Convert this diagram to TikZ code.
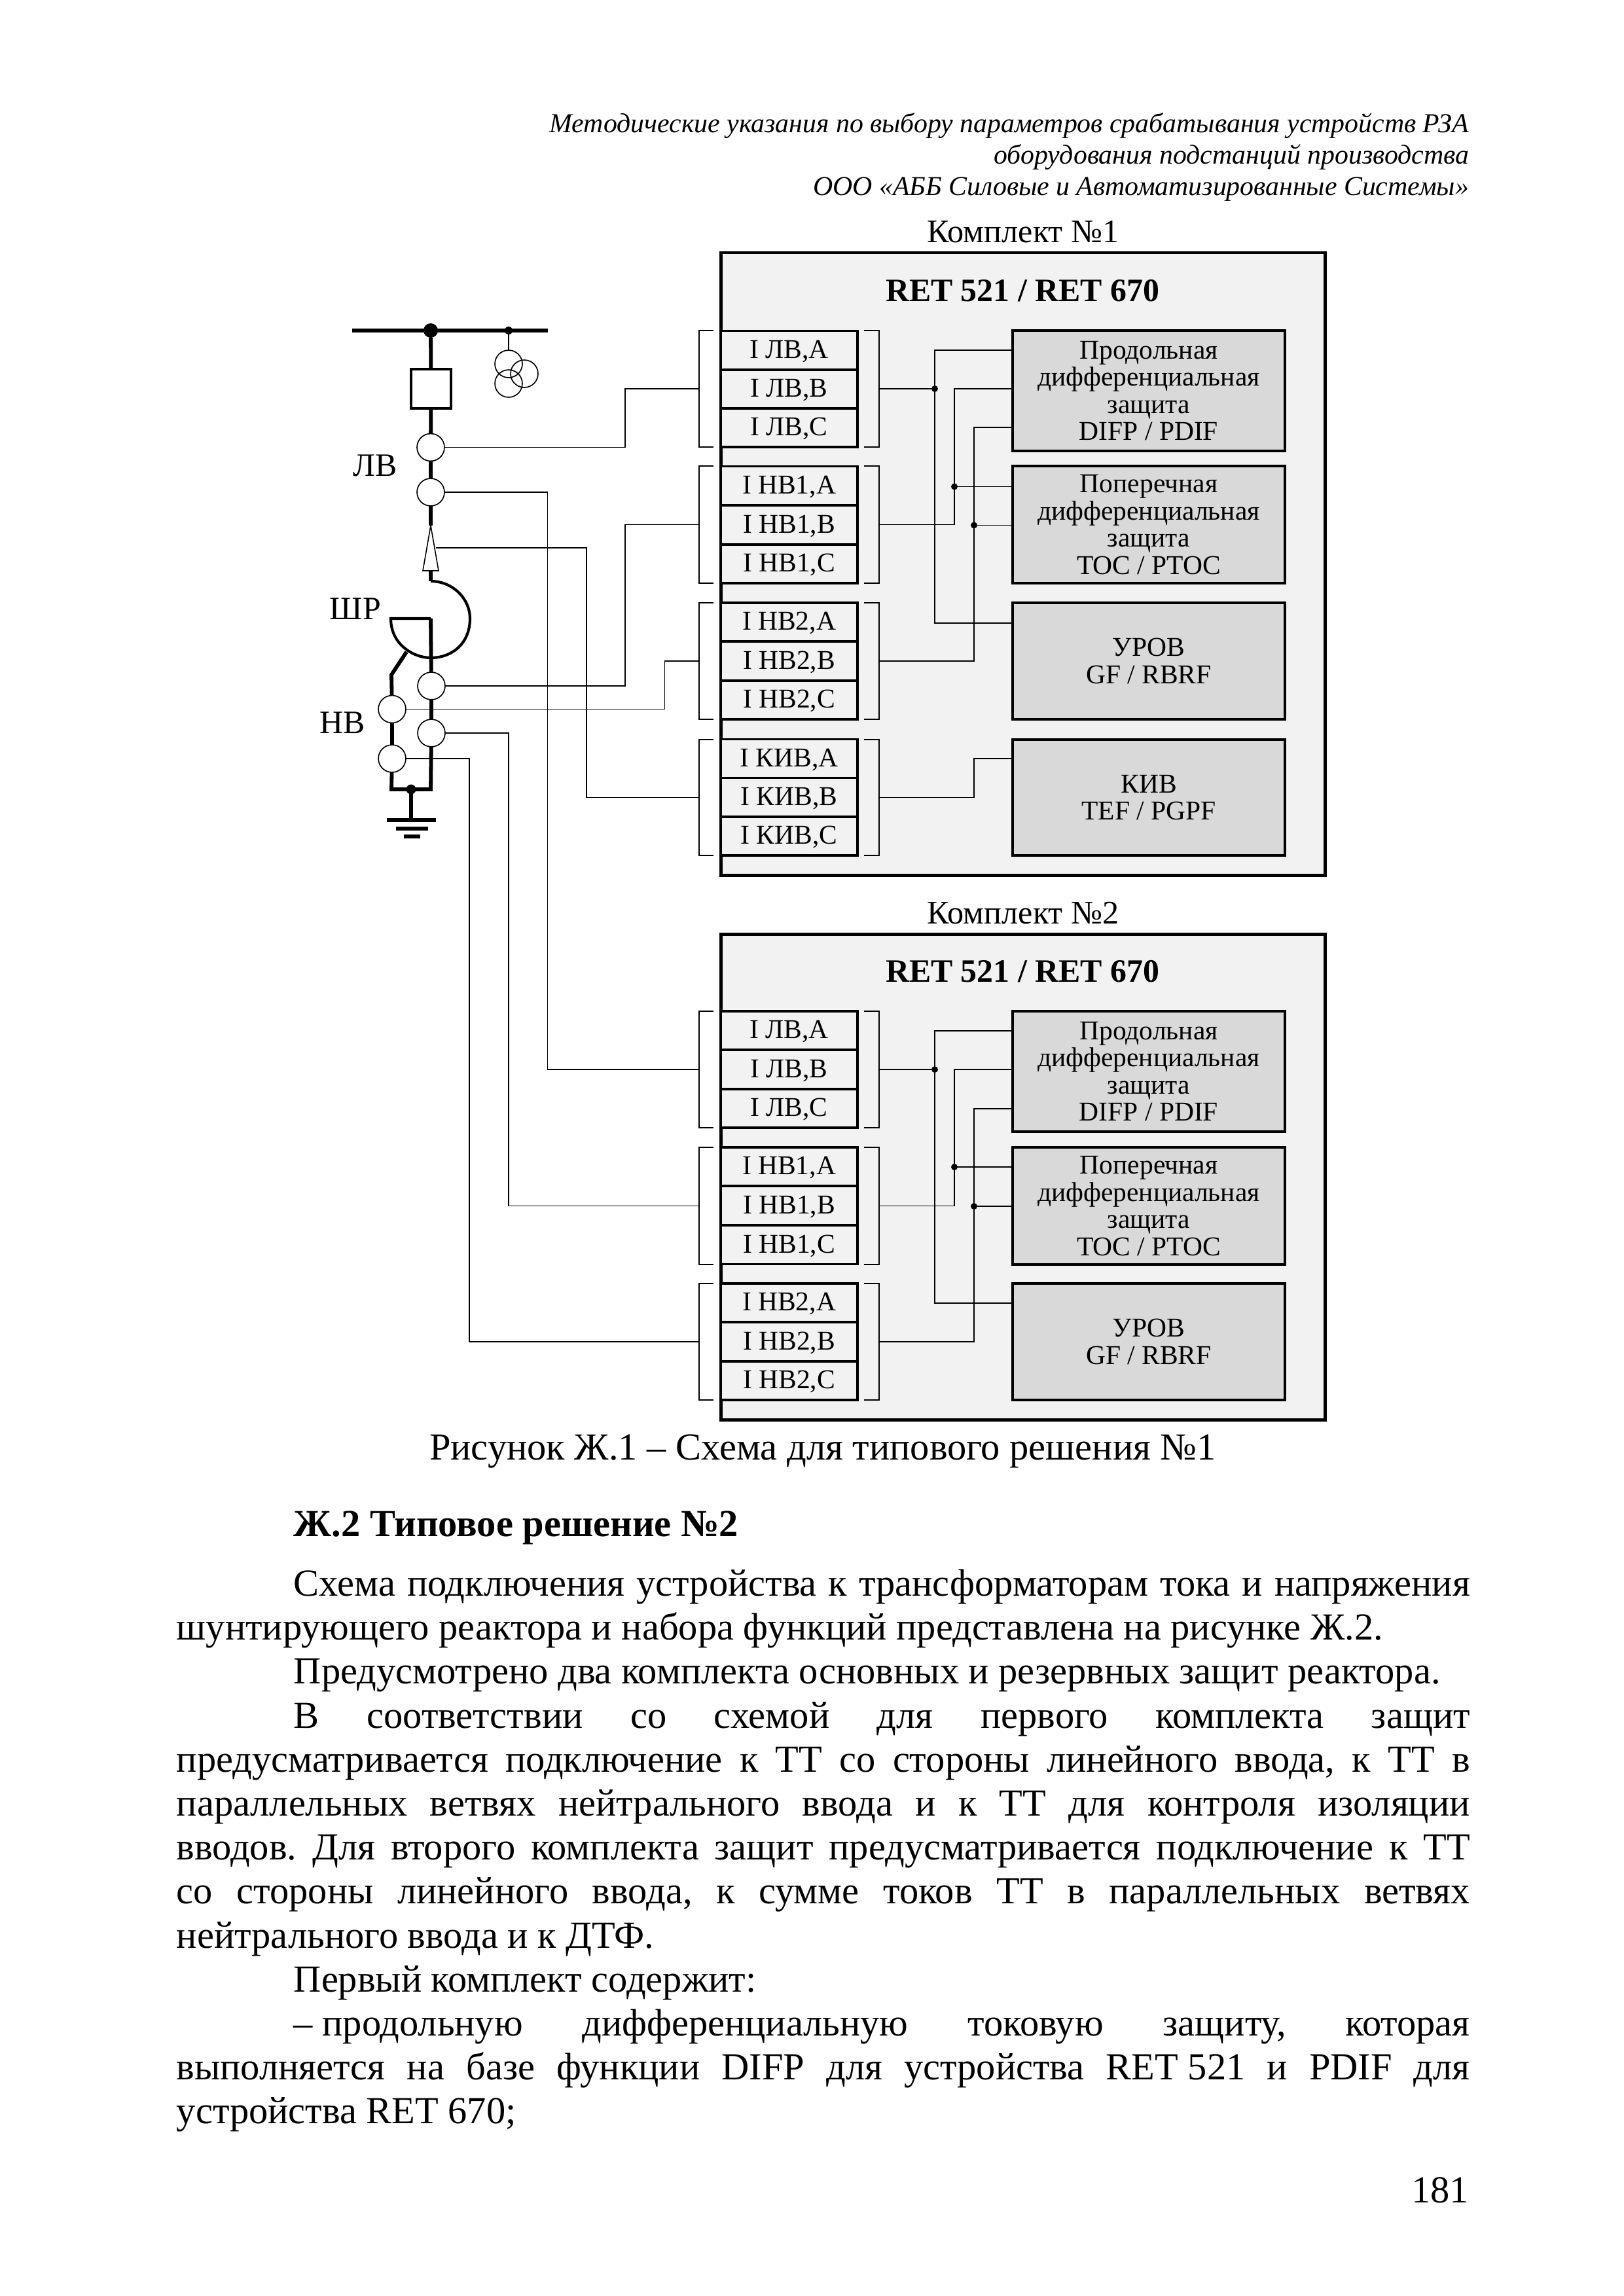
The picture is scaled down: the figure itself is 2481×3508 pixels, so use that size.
\documentclass[tikz,border=0pt]{standalone}
\usepackage{fontspec}
\setmainfont{Liberation Serif}
\usetikzlibrary{fit}
\frenchspacing
\newcommand{\fullline}[1]{\hbox to 476pt{#1}}
\newcommand{\indline}[1]{\hbox to 432.9pt{#1}}
\newcommand{\inbrackets}[3]{%
	\node (#1l) [brack, fit={(1068,#2) (1090,#3)}] {};
	\node (#1r) [brack, fit={(1320,#2) (1343,#3)}] {};
	\draw [wire] (#1l.north east) -- (#1l.north west) -- (#1l.south west) -- (#1l.south east);
	\draw [wire] (#1r.north west) -- (#1r.north east) -- (#1r.south east) -- (#1r.south west);
}
\definecolor{kitgray}{HTML}{F2F2F2}
\definecolor{funcgray}{HTML}{D9D9D9}
\tikzstyle{wire} = [line width=0.38pt]
\tikzstyle{bus} = [line width=1.4pt]
\tikzstyle{coil} = [line width=1pt]
\tikzstyle{brack} = [rectangle, inner sep=0pt, outer sep=0pt]
\tikzstyle{kit} = [rectangle, inner sep=0pt, outer sep=0pt, draw=black, line width=1.2pt, fill=kitgray]
\tikzstyle{inbox} = [rectangle, minimum width=50.35pt, minimum height=14.3pt, inner sep=0pt, outer sep=0pt, draw=black, line width=0.85pt, fill=kitgray, text height=6pt, text depth=0pt, font=\fontsize{10}{10}\selectfont]
\tikzstyle{func} = [rectangle, minimum width=100.2pt, inner sep=0pt, outer sep=0pt, draw=black, line width=0.85pt, fill=funcgray, align=center, font=\fontsize{10}{10}\selectfont]
\tikzset{
	ct/.style={circle, minimum size=10.1pt, inner sep=0pt, outer sep=0pt, draw=black, line width=0.4pt, fill=white},
	vt/.style={circle, minimum size=10.1pt, inner sep=0pt, outer sep=0pt, draw=black, line width=0.4pt},
	dot/.style={circle, minimum size=2.4pt, inner sep=0pt, outer sep=0pt, fill=black},
	head/.style={inner sep=0pt, anchor=base east, font=\fontsize{10.07}{10.07}\selectfont\itshape},
	kittitle/.style={inner sep=0pt, anchor=base, font=\fontsize{12.1}{12.1}\selectfont},
	rettitle/.style={inner sep=0pt, anchor=base, font=\fontsize{12}{12}\selectfont\bfseries},
	sidemark/.style={inner sep=0pt, anchor=base west, font=\fontsize{12}{12}\selectfont},
	bodyline/.style={inner sep=0pt, anchor=base west, font=\fontsize{14.08}{14.08}\selectfont}
}

\begin{document}
\begin{tikzpicture}[x=0.2409pt, y=-0.2409pt]
	\useasboundingbox (0,0) rectangle (2481,3508);

	% Page header
	\node (h1) [head] at (2245,202) {Методические указания по выбору параметров срабатывания устройств РЗА};
	\node (h2) [head] at (2245,250) {оборудования подстанций производства};
	\node (h3) [head] at (2245,298) {ООО «АББ Силовые и Автоматизированные Системы»};

	% Set 1
	\node (kitname1) [kittitle] at (1563,370) {Комплект №1};
	\node (kit1) [kit, fit={(1101,386) (2024,1337)}] {};
	\node (ret1) [rettitle] at (1562,460) {RET 521 / RET 670};

	\node (lva1) [inbox] at (1205.5,535) {I ЛВ,А};
	\node (lvb1) [inbox] at (1205.5,594.5) {I ЛВ,В};
	\node (lvc1) [inbox] at (1205.5,653.5) {I ЛВ,С};
	\node (nva1) [inbox] at (1205.5,742) {I НВ1,А};
	\node (nvb1) [inbox] at (1205.5,802) {I НВ1,В};
	\node (nvc1) [inbox] at (1205.5,861.5) {I НВ1,С};
	\node (mva1) [inbox] at (1205.5,950.5) {I НВ2,А};
	\node (mvb1) [inbox] at (1205.5,1010) {I НВ2,В};
	\node (mvc1) [inbox] at (1205.5,1069.5) {I НВ2,С};
	\node (kva1) [inbox] at (1205.5,1159) {I КИВ,А};
	\node (kvb1) [inbox] at (1205.5,1218) {I КИВ,В};
	\node (kvc1) [inbox] at (1205.5,1277.5) {I КИВ,С};

	\inbrackets{lv1}{505}{683}
	\inbrackets{nv1}{712}{891}
	\inbrackets{mv1}{921}{1099}
	\inbrackets{kv1}{1130}{1307}

	\node (dif1) [func, minimum height=44.3pt] at (1755,597) {Продольная\\дифференциальная\\защита\\DIFP / PDIF};
	\node (toc1) [func, minimum height=43.1pt] at (1755,801.5) {Поперечная\\дифференциальная\\защита\\TOC / PTOC};
	\node (urv1) [func, minimum height=42.9pt] at (1755,1010) {УРОВ\\GF / RBRF};
	\node (kiv1) [func, minimum height=42.6pt] at (1755,1218.5) {КИВ\\TEF / PGPF};

	\node (da1) [dot] at (1428,594) {};
	\node (db1) [dot] at (1458,743.5) {};
	\node (dc1) [dot] at (1488,802.5) {};
	\coordinate (difa1) at (1547,535);
	\coordinate (difb1) at (1547,594);
	\coordinate (difc1) at (1547,653);
	\coordinate (urva1) at (1547,952);
	\coordinate (kiva1) at (1547,1159);
	\coordinate (kvt1) at (1488,1190);

	\draw [wire] (lv1r.east) -- (da1.center);
	\draw [wire] (difa1) -| (da1.center) |- (urva1);
	\draw [wire] (nv1r.east) -| (db1.center) |- (difb1);
	\draw [wire] (db1.center) -- (toc1.west |- db1);
	\draw [wire] (mv1r.east) -| (dc1.center) |- (difc1);
	\draw [wire] (dc1.center) -- (toc1.west |- dc1);
	\draw [wire] (kv1r.east) -| (kvt1) |- (kiva1);

	% Set 2
	\node (kitname2) [kittitle] at (1563,1411) {Комплект №2};
	\node (kit2) [kit, fit={(1101,1427) (2024,2169)}] {};
	\node (ret2) [rettitle] at (1562,1500) {RET 521 / RET 670};

	\node (lva2) [inbox] at (1205.5,1574.5) {I ЛВ,А};
	\node (lvb2) [inbox] at (1205.5,1634) {I ЛВ,В};
	\node (lvc2) [inbox] at (1205.5,1693.5) {I ЛВ,С};
	\node (nva2) [inbox] at (1205.5,1782.5) {I НВ1,А};
	\node (nvb2) [inbox] at (1205.5,1842) {I НВ1,В};
	\node (nvc2) [inbox] at (1205.5,1902) {I НВ1,С};
	\node (mva2) [inbox] at (1205.5,1990.5) {I НВ2,А};
	\node (mvb2) [inbox] at (1205.5,2050) {I НВ2,В};
	\node (mvc2) [inbox] at (1205.5,2109.5) {I НВ2,С};

	\inbrackets{lv2}{1545}{1723}
	\inbrackets{nv2}{1753}{1932}
	\inbrackets{mv2}{1961}{2139}

	\node (dif2) [func, minimum height=44.3pt] at (1755,1637) {Продольная\\дифференциальная\\защита\\DIFP / PDIF};
	\node (toc2) [func, minimum height=43.1pt] at (1755,1842.5) {Поперечная\\дифференциальная\\защита\\TOC / PTOC};
	\node (urv2) [func, minimum height=42.9pt] at (1755,2050) {УРОВ\\GF / RBRF};

	\node (da2) [dot] at (1428,1634) {};
	\node (db2) [dot] at (1458,1783) {};
	\node (dc2) [dot] at (1488,1843) {};
	\coordinate (difa2) at (1547,1575);
	\coordinate (difb2) at (1547,1634);
	\coordinate (difc2) at (1547,1694);
	\coordinate (urva2) at (1547,1991);

	\draw [wire] (lv2r.east) -- (da2.center);
	\draw [wire] (difa2) -| (da2.center) |- (urva2);
	\draw [wire] (nv2r.east) -| (db2.center) |- (difb2);
	\draw [wire] (db2.center) -- (toc2.west |- db2);
	\draw [wire] (mv2r.east) -| (dc2.center) |- (difc2);
	\draw [wire] (dc2.center) -- (toc2.west |- dc2);

	% One-line scheme
	\coordinate (busl) at (538,505);
	\coordinate (busr) at (837,505);
	\node (busdot) [dot, minimum size=5.3pt] at (658,505) {};
	\node (vtdot) [dot, minimum size=2.9pt] at (777,505) {};
	\node (vta) [vt] at (777,556) {};
	\node (vtb) [vt] at (801,571) {};
	\node (vtc) [vt] at (777,586) {};
	\node (brk) [rectangle, inner sep=0pt, outer sep=0pt, draw=black, line width=0.95pt, fit={(628,564) (689,624)}] {};
	\node (cta) [ct] at (658,683.5) {};
	\node (ctb) [ct] at (658,752) {};
	\node (ctc) [ct] at (659,1048) {};
	\node (ctd) [ct] at (659,1120) {};
	\node (cte) [ct] at (599,1083.5) {};
	\node (ctf) [ct] at (599,1159) {};
	\node (lvmark) [sidemark] at (539,727) {ЛВ};
	\node (srmark) [sidemark] at (503,946) {ШР};
	\node (nvmark) [sidemark] at (488,1120) {НВ};

	\coordinate (cone) at (658,803);
	\coordinate (conel) at (646,872);
	\coordinate (coner) at (670,872);
	\coordinate (conem) at (658,872);
	\coordinate (conew) at (666,837);
	\coordinate (reac) at (658,888);
	\coordinate (reacl) at (597,945);
	\coordinate (reacm) at (658,945);
	\coordinate (tap) at (621,996);
	\coordinate (bend) at (598,1031);
	\coordinate (nl) at (598,1206);
	\coordinate (nr) at (658,1206);
	\node (gnddot) [dot, minimum size=3.6pt] at (628,1206) {};
	\coordinate (gnd) at (628,1253);

	\draw [bus] (busl) -- (busr);
	\draw [bus] (busdot) -- (brk);
	\draw [bus] (brk) -- (cta);
	\draw [bus] (cta) -- (ctb);
	\draw [bus] (ctb) -- (cone);
	\draw [wire] (cone) -- (conel) -- (coner) -- cycle;
	\draw [bus] (conem) -- (reac);
	\draw [coil] (reac) .. controls (692,888) and (718,915) .. (718,945) .. controls (718,982) and (692,1005) .. (658,1005) .. controls (632,1005) and (597,985) .. (reacl) -- (reacm);
	\draw [bus] (reacm) -- (ctc);
	\draw [bus] (ctc) -- (ctd);
	\draw [bus] (tap) -- (bend) -- (cte);
	\draw [bus] (cte) -- (ctf);
	\draw [bus] (ctd) -- (nr) -- (nl) -- (ctf);
	\draw [bus] (gnddot) -- (gnd);
	\draw [bus] (591,1253) -- (666,1253);
	\draw [bus] (605,1266) -- (654,1266);
	\draw [bus] (617,1278) -- (642,1278);
	\draw [wire] (vtdot) -- (vta);

	% Wires from the scheme to the sets
	\coordinate (ta) at (955,640);
	\coordinate (tb) at (836.6,1200);
	\coordinate (tc) at (955,900);
	\coordinate (td) at (1015.6,1050);
	\coordinate (te) at (896,1000);
	\coordinate (tf) at (777,1400);
	\coordinate (tg) at (717,1500);

	\draw [wire] (cta.east) -| (ta) |- (lv1l.west);
	\draw [wire] (ctb.east) -| (tb) |- (lv2l.west);
	\draw [wire] (ctc.east) -| (tc) |- (nv1l.west);
	\draw [wire] (cte.east) -| (td) |- (mv1l.west);
	\draw [wire] (conew) -| (te) |- (kv1l.west);
	\draw [wire] (ctd.east) -| (tf) |- (nv2l.west);
	\draw [wire] (ctf.east) -| (tg) |- (mv2l.west);

	% Text of the page
	\node (caption) [bodyline, anchor=base] at (1257,2230) {Рисунок Ж.1 – Схема для типового решения №1};
	\node (sect) [bodyline, font=\fontsize{14.08}{14.08}\selectfont\bfseries] at (448,2347) {Ж.2 Типовое решение №2};
	\node (b0) [bodyline] at (448,2438) {\indline{Схема подключения устройства к трансформаторам тока и напряжения}};
	\node (b1) [bodyline] at (269,2505) {шунтирующего реактора и набора функций представлена на рисунке Ж.2.};
	\node (b2) [bodyline] at (448,2572) {Предусмотрено два комплекта основных и резервных защит реактора.};
	\node (b3) [bodyline] at (448,2640) {\indline{В соответствии со схемой для первого комплекта защит}};
	\node (b4) [bodyline] at (269,2707) {\fullline{предусматривается подключение к ТТ со стороны линейного ввода, к ТТ в}};
	\node (b5) [bodyline] at (269,2774) {\fullline{параллельных ветвях нейтрального ввода и к ТТ для контроля изоляции}};
	\node (b6) [bodyline] at (269,2841) {\fullline{вводов. Для второго комплекта защит предусматривается подключение к ТТ}};
	\node (b7) [bodyline] at (269,2908) {\fullline{со стороны линейного ввода, к сумме токов ТТ в параллельных ветвях}};
	\node (b8) [bodyline] at (269,2976) {нейтрального ввода и к ДТФ.};
	\node (b9) [bodyline] at (448,3043) {Первый комплект содержит:};
	\node (b10) [bodyline] at (448,3110) {\indline{–\hspace{3.5pt}продольную дифференциальную токовую защиту, которая}};
	\node (b11) [bodyline] at (269,3177) {\fullline{выполняется на базе функции DIFP для устройства RET\hspace{3.5pt}521 и PDIF для}};
	\node (b12) [bodyline] at (269,3244) {устройства RET\hspace{3.5pt}670;};
	\node (pageno) [bodyline, anchor=base east] at (2245,3365) {181};
\end{tikzpicture}
\end{document}
